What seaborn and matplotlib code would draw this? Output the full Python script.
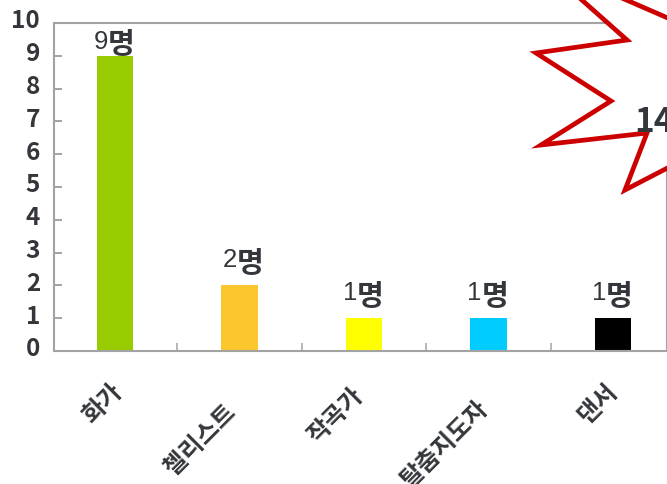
import matplotlib
matplotlib.use("Agg")
import matplotlib.pyplot as plt
from matplotlib.patches import Polygon
from matplotlib.transforms import ScaledTranslation, Affine2D
import pandas as pd
import seaborn as sns

# Number of people per occupation
occupations = ["화가", "첼리스트", "작곡가", "탈춤지도자", "댄서"]
counts = [9, 2, 1, 1, 1]
bar_colors = ["#99cc00", "#fcc62d", "#ffff00", "#00ccff", "#000000"]
y_ticks = list(range(0, 11))
burst_label = "14명"

W, H = 667, 484
GRAY = "#a3a3a3"
INK = "#33363a"
KR = "Noto Sans CJK KR"

sns.set_theme(style="white")
plt.rcParams["font.family"] = [KR, "DejaVu Sans"]

fig = plt.figure(figsize=(W / 100, H / 100), dpi=100, facecolor="white")
ax = fig.add_axes([54 / W, (H - 351) / H, (W - 54) / W, 328 / H])

df = pd.DataFrame({"occupation": occupations, "count": counts})
sns.barplot(data=df, x="occupation", y="count", hue="occupation",
            palette=bar_colors, dodge=False, legend=False, width=0.29,
            saturation=1, linewidth=0, ax=ax)

ax.set_xlim(-0.49, 4.434)
ax.set_ylim(0, 10)
ax.set_xlabel("")
ax.set_ylabel("")
for side in ax.spines.values():
    side.set_color(GRAY)
    side.set_linewidth(1.5)

# Value axis: inward ticks, labels slightly raised
ax.set_yticks(y_ticks)
ax.tick_params(axis="y", direction="in", length=6, width=1.4, color=GRAY,
               left=True, pad=10)
raise_y = ScaledTranslation(0, 3 / 72, fig.dpi_scale_trans)
for lab in ax.get_yticklabels():
    lab.set_fontsize(17.5)
    lab.set_fontweight("bold")
    lab.set_color(INK)
    lab.set_transform(lab.get_transform() + raise_y)

# Category axis: ticks sit between the categories
ax.set_xticks(range(len(occupations)))
ax.set_xticks([i + 0.5 for i in range(len(occupations) - 1)], minor=True)
ax.tick_params(axis="x", which="major", length=0, pad=0)
ax.tick_params(axis="x", which="minor", direction="in", length=6, width=1.1,
               color=GRAY, bottom=True)
ax.set_xticklabels(occupations, rotation=45, rotation_mode="anchor",
                   ha="center", va="center", fontsize=17.5, fontweight="bold",
                   color=INK)
label_shift = [(-9, -38), (-28, -64), (-20, -47), (-32, -67), (-11, -38)]
for lab, (dx, dy) in zip(ax.get_xticklabels(), label_shift):
    lab.set_transform(lab.get_transform()
                      + ScaledTranslation(dx / 72, dy / 72, fig.dpi_scale_trans))

# Value labels above each bar: Latin digit, bold Hangul unit
label_gap = [1, 9, 9, 9, 9]
label_nudge = [0, 3, 0, 0, 0]
for i, (n, gap, nudge) in enumerate(zip(counts, label_gap, label_nudge)):
    ax.annotate(str(n), xy=(i, n), xytext=(-5 + nudge, gap + 0.5),
                textcoords="offset points", ha="right", va="bottom",
                fontsize=18.5, color=INK, family="Liberation Sans")
    ax.annotate("명", xy=(i, n), xytext=(-5 + nudge, gap - 3.5),
                textcoords="offset points", ha="left", va="bottom",
                fontsize=21, fontweight="bold", color=INK)

# Red starburst, laid out in pixels from the top-left corner
burst = [(539, -38), (627, 40), (536, 53), (611, 101), (541, 145), (647, 133),
         (625, 190), (760, 120), (760, 60), (700, 32)]
pixels = Affine2D().scale(1 / W, -1 / H).translate(0, 1) + fig.transFigure
fig.add_artist(Polygon(burst, closed=True, facecolor="white", edgecolor="#cc0000",
                       linewidth=3.4, joinstyle="miter", transform=pixels,
                       clip_on=False, zorder=5))
fig.text(634 / W, 1 - 132 / H, burst_label, fontsize=24, fontweight="bold",
         color=INK, ha="left", va="baseline", zorder=6)

fig.savefig("out.png", dpi=100)
